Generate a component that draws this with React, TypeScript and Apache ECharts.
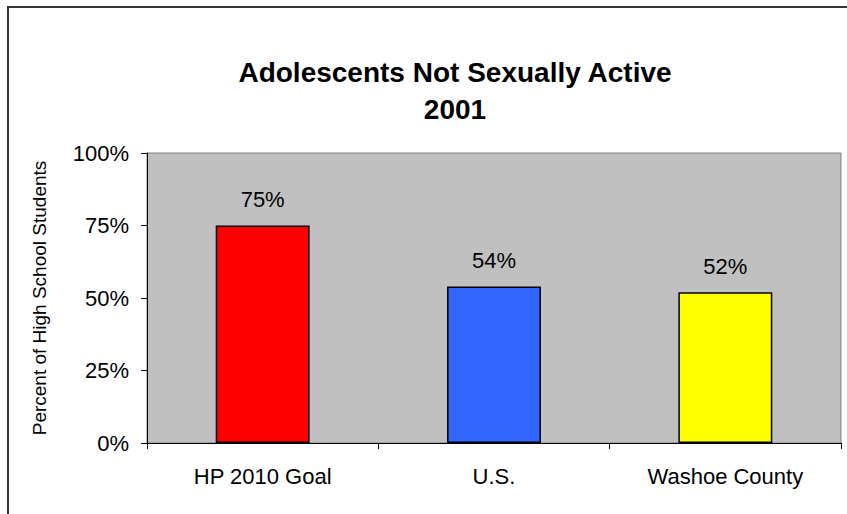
import React, { useEffect, useRef } from "react";
import * as echarts from "echarts";

const categories = ["HP 2010 Goal", "U.S.", "Washoe County"];
const values = [75, 54, 52];
const barColors = ["#FF0000", "#3366FF", "#FFFF00"];
const yTicks = [0, 25, 50, 75, 100];

const FONT = "'Liberation Sans', Arial, sans-serif";

export default function App() {
  const ref = useRef<HTMLDivElement>(null);

  useEffect(() => {
    document.body.style.margin = "0";
    const chart = echarts.init(ref.current!, null, { renderer: "svg" });
    chart.setOption({
      animation: false,
      backgroundColor: "#FFFFFF",
      textStyle: { fontFamily: FONT },
      graphic: [
        {
          type: "rect",
          shape: { x: 8, y: 7, width: 900, height: 600 },
          style: { fill: "none", stroke: "#333333", lineWidth: 2 },
          silent: true,
          z: -1,
        },
        {
          type: "text",
          x: 455,
          y: 54,
          style: {
            text: "Adolescents Not Sexually Active\n2001",
            fontFamily: FONT,
            fontSize: 28,
            fontWeight: "bold",
            fill: "#000000",
            align: "center",
            verticalAlign: "top",
            lineHeight: 37,
          },
        },
      ],
      grid: {
        left: 147,
        top: 153,
        right: 6,
        bottom: 71,
        show: true,
        backgroundColor: "#C0C0C0",
        borderColor: "#808080",
        borderWidth: 1,
      },
      xAxis: {
        type: "category",
        data: categories,
        boundaryGap: true,
        axisLine: { show: true, lineStyle: { color: "#000000", width: 1 } },
        axisTick: { show: true, alignWithLabel: false, length: 6, lineStyle: { color: "#000000" } },
        axisLabel: { color: "#000000", fontSize: 22, margin: 22, fontFamily: FONT },
        splitLine: { show: false },
      },
      yAxis: {
        type: "value",
        min: yTicks[0],
        max: yTicks[yTicks.length - 1],
        interval: 25,
        name: "Percent of High School Students",
        nameLocation: "middle",
        nameGap: 98,
        nameRotate: 90,
        nameTextStyle: { color: "#000000", fontSize: 19, fontFamily: FONT },
        axisLine: { show: true, lineStyle: { color: "#000000", width: 1 } },
        axisTick: { show: true, length: 6, lineStyle: { color: "#000000" } },
        axisLabel: { color: "#000000", fontSize: 22, margin: 18, formatter: "{value}%", fontFamily: FONT },
        splitLine: { show: false },
      },
      series: [
        {
          type: "bar",
          data: values.map((v, i) => ({ value: v, itemStyle: { color: barColors[i] } })),
          barWidth: "40.6%",
          itemStyle: { borderColor: "#000000", borderWidth: 1.5 },
          label: {
            show: true,
            position: "top",
            distance: 15,
            formatter: "{c}%",
            color: "#000000",
            fontSize: 22,
            fontFamily: FONT,
          },
        },
      ],
    });
    return () => chart.dispose();
  }, []);

  return <div ref={ref} style={{ width: 847, height: 514 }} />;
}
